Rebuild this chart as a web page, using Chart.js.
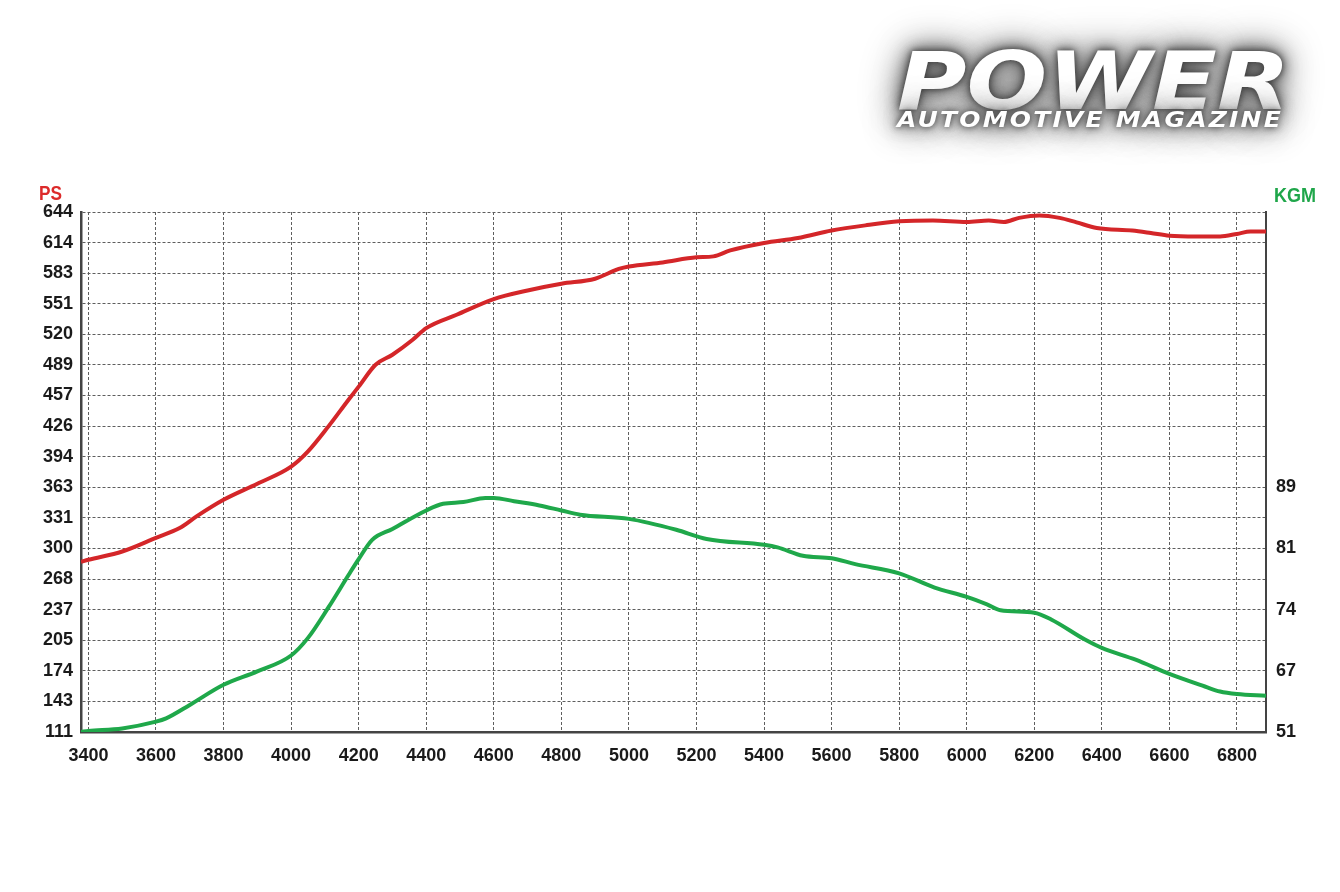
<!DOCTYPE html>
<html lang="en">
<head>
    <meta charset="UTF-8">
    <title>Dyno Chart</title>
    <script src="https://cdn.jsdelivr.net/npm/chart.js"></script>
    <style>
        html, body {
            margin: 0;
            padding: 0;
            background: #ffffff;
        }
        #wrap {
            position: relative;
            width: 1340px;
            height: 892px;
            overflow: hidden;
        }
        #dyno {
            position: absolute;
            left: 0;
            top: 0;
        }
        .axisTitle {
            position: absolute;
            font-family: 'Liberation Sans', Arial, sans-serif;
            font-weight: bold;
            font-size: 21px;
            line-height: 21px;
            white-space: nowrap;
            transform-origin: left top;
        }
        #psTitle { left: 39px; top: 182px; color: #dc2a2a; }
        #kgmTitle { left: 1274px; top: 184px; color: #1fa64a; }
        .logoText {
            position: absolute;
            font-family: 'DejaVu Sans', sans-serif;
            font-weight: bold;
            font-style: italic;
            color: #ffffff;
            white-space: nowrap;
            transform-origin: left top;
            text-shadow: 0 0 6px #3a3a3a, 0 0 14px #4a4a4a, 0 0 26px #666, 0 0 40px #888;
        }
        #power { left: 897px; top: 42px; font-size: 80px; line-height: 80px; }
        #magazine { left: 897px; top: 109px; font-size: 22px; line-height: 22px; letter-spacing: 2px; }
    </style>
</head>
<body>
<div id="wrap">
    <canvas id="dyno" width="1340" height="892"></canvas>
    <div id="psTitle" class="axisTitle">PS</div>
    <div id="kgmTitle" class="axisTitle">KGM</div>
    <div id="power" class="logoText">POWER</div>
    <div id="magazine" class="logoText">AUTOMOTIVE MAGAZINE</div>
</div>

<script>
    // power curve (PS)
    const psRpm = [3378, 3400, 3500, 3600, 3670, 3720, 3800, 3900, 4000, 4050, 4110, 4170, 4200, 4250, 4300, 4360,
        4400, 4490, 4600, 4700, 4800, 4900, 4970, 5000, 5100, 5200, 5250, 5300, 5400, 5500, 5600, 5700, 5800,
        5900, 6000, 6065, 6110, 6155, 6215, 6275, 6325, 6385, 6490, 6545, 6600, 6680, 6750, 6800, 6840, 6886];
    const psValues = [285.5, 287.6, 296, 310, 320, 332, 349, 365.5, 383, 398.6, 424, 451.6, 465, 487.5, 497.7, 513,
        525, 538.7, 554.8, 563.6, 570.5, 575.6, 585.6, 588.2, 592.3, 597.5, 598.5, 604.6, 612.2, 617.3, 625, 630.3, 634.4,
        635.4, 633.8, 635.4, 633.8, 638, 640.5, 638, 633.4, 627.6, 625, 622.5, 619.7, 619, 619, 621.5, 624, 624];

    // torque curve (KGM)
    const kgmRpm = [3378, 3400, 3500, 3600, 3630, 3700, 3800, 3900, 4000, 4050, 4110, 4170, 4200, 4240, 4300, 4400,
        4450, 4510, 4575, 4600, 4660, 4735, 4800, 4855, 5000, 5140, 5230, 5400, 5440, 5515, 5600, 5670, 5800,
        5905, 6000, 6060, 6100, 6200, 6250, 6350, 6400, 6500, 6600, 6705, 6750, 6800, 6886];
    const kgmValues = [59.7, 59.8, 60.1, 60.9, 61.3, 62.9, 65.3, 66.9, 68.8, 70.9, 74.5, 78.4, 80.3, 82.6, 83.9, 86.1,
        86.9, 87.1, 87.6, 87.6, 87.2, 86.7, 86.1, 85.6, 85.1, 83.8, 82.7, 82.0, 81.7, 80.7, 80.4, 79.7, 78.6,
        76.9, 75.8, 74.9, 74.2, 73.9, 73.1, 70.7, 69.7, 68.3, 66.6, 65.1, 64.5, 64.2, 64.0];

    // axis labels
    const rpmTicks = [3400, 3600, 3800, 4000, 4200, 4400, 4600, 4800, 5000, 5200, 5400, 5600, 5800, 6000, 6200, 6400, 6600, 6800];
    const psTickLabels = ['111', '143', '174', '205', '237', '268', '300', '331', '363', '394', '426', '457', '489', '520', '551', '583', '614', '644'];
    const kgmTickLabels = ['51', '67', '74', '81', '89'];
    const kgmTickSteps = [0, 2, 4, 6, 8];

    const psMin = 111, psMax = 644;
    const kgmMin = 59.67, kgmMax = 121.71;
    const rpmMin = 3378, rpmMax = 6886;
    const divisions = psTickLabels.length - 1;

    const tickFont = { family: "'Liberation Sans', Arial, sans-serif", size: 18, weight: 'bold' };
    const gridDash = [3, 2];

    const toPoints = (xs, ys) => xs.map((x, i) => ({ x: x, y: ys[i] }));

    new Chart(document.getElementById('dyno').getContext('2d'), {
        type: 'line',
        data: {
            datasets: [{
                label: 'PS',
                data: toPoints(psRpm, psValues),
                yAxisID: 'y',
                borderColor: '#d42629',
                borderWidth: 4,
                pointRadius: 0,
                cubicInterpolationMode: 'monotone'
            }, {
                label: 'KGM',
                data: toPoints(kgmRpm, kgmValues),
                yAxisID: 'y2',
                borderColor: '#1fa84a',
                borderWidth: 4,
                pointRadius: 0,
                cubicInterpolationMode: 'monotone'
            }]
        },
        options: {
            responsive: false,
            devicePixelRatio: 1,
            animation: false,
            layout: { padding: { left: 0, right: 0, top: 212, bottom: 120 } },
            plugins: {
                legend: { display: false },
                tooltip: { enabled: false }
            },
            scales: {
                x: {
                    type: 'linear',
                    min: rpmMin,
                    max: rpmMax,
                    afterBuildTicks: scale => { scale.ticks = rpmTicks.map(v => ({ value: v })); },
                    afterFit: scale => { scale.height = 40; },
                    ticks: {
                        color: '#1a1a1a',
                        font: tickFont,
                        padding: 13,
                        maxRotation: 0,
                        autoSkip: false,
                        callback: v => String(v)
                    },
                    grid: { color: '#5e5e5e', lineWidth: 1, drawTicks: false },
                    border: { display: true, color: '#444', width: 2.5, dash: gridDash }
                },
                y: {
                    position: 'left',
                    min: psMin,
                    max: psMax,
                    afterBuildTicks: scale => {
                        scale.ticks = psTickLabels.map((_, k) => ({ value: psMin + k * (psMax - psMin) / divisions }));
                    },
                    afterFit: scale => { scale.width = 81; },
                    ticks: {
                        color: '#1a1a1a',
                        font: tickFont,
                        padding: 8,
                        autoSkip: false,
                        callback: (v, i) => psTickLabels[i]
                    },
                    grid: { color: '#5e5e5e', lineWidth: 1, drawTicks: false },
                    border: { display: true, color: '#444', width: 2.5, dash: gridDash }
                },
                y2: {
                    position: 'right',
                    min: kgmMin,
                    max: kgmMax,
                    afterBuildTicks: scale => {
                        scale.ticks = kgmTickSteps.map(k => ({ value: kgmMin + k * (kgmMax - kgmMin) / divisions }));
                    },
                    afterFit: scale => { scale.width = 74; },
                    ticks: {
                        color: '#1a1a1a',
                        font: tickFont,
                        padding: 10,
                        autoSkip: false,
                        callback: (v, i) => kgmTickLabels[i]
                    },
                    grid: { display: false, drawTicks: false },
                    border: { display: true, color: '#444', width: 2 }
                }
            }
        }
    });

    // stretch the texts to the width they have in the picture
    function fitWidth(id, target) {
        const el = document.getElementById(id);
        const w = el.getBoundingClientRect().width;
        el.style.transform = 'scaleX(' + (target / w) + ')';
    }
    fitWidth('power', 393);
    fitWidth('magazine', 386);
    fitWidth('psTitle', 23);
    fitWidth('kgmTitle', 42);
</script>
</body>
</html>
